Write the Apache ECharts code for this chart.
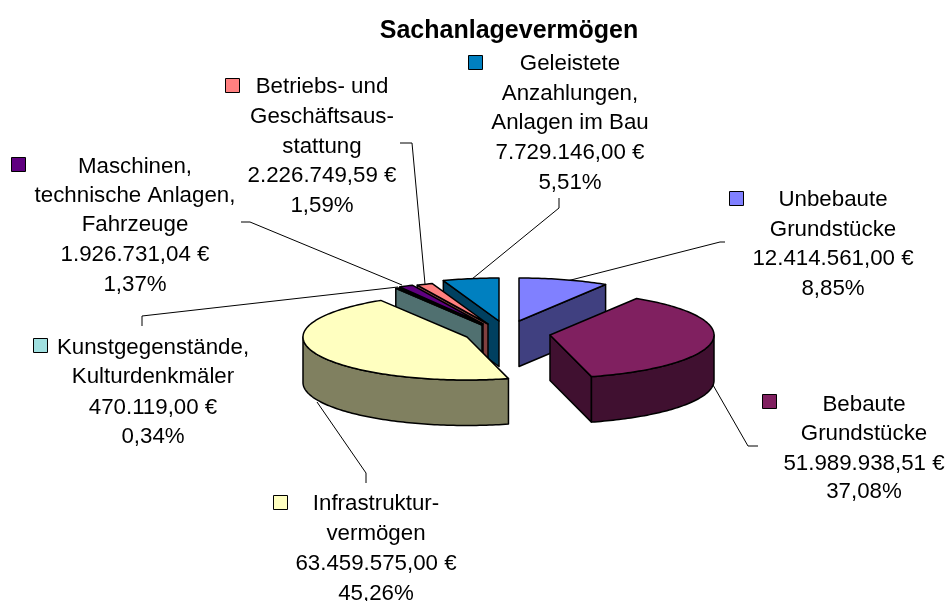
<!DOCTYPE html>
<html><head><meta charset="utf-8">
<style>html,body{margin:0;padding:0;background:#fff}#c{width:949px;height:601px}</style>
<script src="https://cdn.jsdelivr.net/npm/echarts@6/dist/echarts.min.js"></script>
</head><body><div id="c"></div>
<script>
// ---- data ----
const title = 'Sachanlagevermögen';
const nameLines = [
  ['Unbebaute','Grundstücke'],
  ['Bebaute','Grundstücke'],
  ['Infrastruktur-','vermögen'],
  ['Kunstgegenstände,','Kulturdenkmäler'],
  ['Maschinen,','technische Anlagen,','Fahrzeuge'],
  ['Betriebs- und','Geschäftsaus-','stattung'],
  ['Geleistete','Anzahlungen,','Anlagen im Bau']
];
const values = [12414561.00, 51989938.51, 63459575.00, 470119.00, 1926731.04, 2226749.59, 7729146.00];

// ---- styles and layout ----
const topColors  = ['#8080FF','#802060','#FFFFC0','#A0E0E0','#600080','#FF8080','#0080C0'];
const sideColors = ['#404080','#401030','#808060','#507070','#300040','#804040','#004060'];
const apex = [[519,321],[550,335],[467,337],[482,325],[483,324],[488,324],[499,321]];
const paintOrder = [5,6,7,4,3,2,1]; // z by slice index, back to front
const RX = 164, RY = 43, DEPTH = 45.5;
const labelX = [833,864,376,153,135,322,570];
const labelY = [[198,228,257,287],[403,432,462,490],[502,532,562,592],[346,375,406,435],
                [165,194,223,253,283],[85,115,145,174,204],[62,92,121,151,181]];
const keyPos = [[729,191],[762,394],[273,495],[33,338],[11,157],[225,78],[468,55]];
const leaders = [
  [[567,281],[720,242],[725,242]],
  [[713,385],[748,446],[758,446]],
  [[317,402],[366,473],[366,483]],
  [[398,287],[142,316],[142,326]],
  [[402,285],[250,222],[241,222]],
  [[425,284],[412,143],[400,143]],
  [[472,279],[559,208],[559,198]]
];
const FONT = '"Liberation Sans", Arial, sans-serif';

const total = values.reduce((a,b)=>a+b,0);
const starts = []; values.reduce((a,v,i)=>{starts[i]=a;return a+v;},0);
const fmt = (n,d)=>n.toLocaleString('de-DE',{minimumFractionDigits:d,maximumFractionDigits:d});

function renderItem(params, api){
  const i = api.value(0), v = api.value(1);
  const a0 = starts[i]/total*Math.PI*2, a1 = (starts[i]+v)/total*Math.PI*2;
  const [cx,cy] = apex[i];
  const P = t => [cx+RX*Math.sin(t), cy-RY*Math.cos(t)];
  const down = p => [p[0],p[1]+DEPTH];
  const z = paintOrder[i]*10;
  const sty = f => ({fill:f, stroke:'#000', lineWidth:1.5, lineJoin:'round'});
  const arc = (s,e)=>{const n=Math.max(2,Math.ceil((e-s)/0.02)),o=[];for(let k=0;k<=n;k++)o.push(P(s+(e-s)*k/n));return o;};
  const kids = [];
  const poly = (pts,f,zz)=>kids.push({type:'polygon',shape:{points:pts},style:sty(f),z2:zz,silent:true});
  // cut faces
  if(Math.sin(a0) < -1e-6){const p=P(a0);poly([[cx,cy],p,down(p),down([cx,cy])],sideColors[i],z);}
  if(Math.sin(a1) > 1e-6){const p=P(a1);poly([[cx,cy],p,down(p),down([cx,cy])],sideColors[i],z+1);}
  // outer rim (front half only)
  const rs=Math.max(a0,Math.PI/2), re=Math.min(a1,Math.PI*1.5);
  if(re>rs){const u=arc(rs,re);poly(u.concat(u.map(down).reverse()),sideColors[i],z+2);}
  // top face
  poly([[cx,cy]].concat(arc(a0,a1)),topColors[i],z+3);
  // leader line
  kids.push({type:'polyline',shape:{points:leaders[i]},style:{fill:null,stroke:'#000',lineWidth:1},z2:5,silent:true});
  // legend key
  kids.push({type:'rect',shape:{x:keyPos[i][0]+.5,y:keyPos[i][1]+.5,width:14,height:14},
    style:{fill:topColors[i],stroke:'#000',lineWidth:1},z2:200,silent:true});
  // label
  const lines = nameLines[i].concat([fmt(v,2)+' €', fmt(v/total*100,2)+'%']);
  lines.forEach((t,k)=>kids.push({type:'text',x:labelX[i],y:labelY[i][k]+1.5,silent:true,z2:201,
    style:{text:t,fill:'#000',font:'22.3px '+FONT,align:'center',verticalAlign:'middle'}}));
  return {type:'group',children:kids};
}

const chart = echarts.init(document.getElementById('c'),null,{renderer:'canvas'});
chart.setOption({
  animation:false,
  backgroundColor:'#fff',
  title:{text:title,left:504,top:14,textAlign:'center',
    textStyle:{fontFamily:FONT,fontSize:25,fontWeight:'bold',color:'#000'}},
  series:[{type:'custom',coordinateSystem:'none',renderItem,clip:false,
    data:values.map((v,i)=>[i,v])}]
});
</script></body></html>
